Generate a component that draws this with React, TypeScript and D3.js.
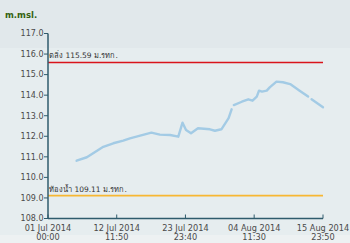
import React from "react";
import * as d3 from "d3";

const dates: string[] = [
  "2014-07-05T19:00", "2014-07-07T12:00", "2014-07-10T06:00", "2014-07-11T22:00",
  "2014-07-13T14:00", "2014-07-14T17:00", "2014-07-16T10:00", "2014-07-18T07:00",
  "2014-07-19T17:00", "2014-07-21T10:00", "2014-07-22T19:00", "2014-07-23T12:00",
  "2014-07-24T02:00", "2014-07-24T22:00", "2014-07-26T02:00", "2014-07-28T02:00",
  "2014-07-28T22:00", "2014-07-30T00:00", "2014-07-31T05:00", "2014-07-31T17:00",
  "2014-07-31T21:00",
  "2014-08-01T02:00", "2014-08-02T10:00", "2014-08-03T12:00", "2014-08-04T05:00",
  "2014-08-04T22:00", "2014-08-05T07:00", "2014-08-05T19:00", "2014-08-06T14:00",
  "2014-08-07T02:00", "2014-08-08T05:00", "2014-08-09T07:00", "2014-08-10T12:00",
  "2014-08-12T02:00", "2014-08-13T12:00", "2014-08-13T18:00",
  "2014-08-14T02:00", "2014-08-15T23:50",
];
const levels: (number | null)[] = [
  110.81, 110.98, 111.49, 111.66,
  111.79, 111.9, 112.03, 112.18,
  112.08, 112.06, 111.98, 112.66,
  112.31, 112.15, 112.39, 112.34,
  112.27, 112.34, 112.88, 113.31,
  null,
  113.52, 113.68, 113.8, 113.73,
  113.93, 114.22, 114.17, 114.22,
  114.38, 114.66, 114.63, 114.54,
  114.22, 113.93, null,
  113.8, 113.41,
];
const yTicks: number[] = [108, 109, 110, 111, 112, 113, 114, 115, 116, 117];
const xTickDates: string[] = [
  "2014-07-01T00:00", "2014-07-12T11:50", "2014-07-23T23:40", "2014-08-04T11:30", "2014-08-15T23:50",
];
const xTickLabels: string[][] = [
  ["01 Jul 2014", "00:00"], ["12 Jul 2014", "11:50"], ["23 Jul 2014", "23:40"],
  ["04 Aug 2014", "11:30"], ["15 Aug 2014", "23:50"],
];
const bankLevel = 115.59;
const bedLevel = 109.11;
const bankLabel = "ตลิ่ง 115.59 ม.รทก.";
const bedLabel = "ท้องน้ำ 109.11 ม.รทก.";
const unitLabel = "m.msl.";

const W = 350, H = 243;
const left = 48, right = 323, top = 33.5, bottom = 218.5;

export default function App() {
  const parse = (s: string) => new Date(s);
  const x = d3.scaleTime().domain([parse(xTickDates[0]), parse(xTickDates[4])]).range([left, right]);
  const y = d3.scaleLinear().domain([108, 117]).range([bottom, top]);
  const pts = dates.map((d, i) => ({ t: parse(d), v: levels[i] }));
  const line = d3.line<{ t: Date; v: number | null }>()
    .defined((d) => d.v !== null)
    .x((d) => x(d.t))
    .y((d) => y(d.v as number))
    .curve(d3.curveLinear);
  const font = "'DejaVu Sans', Verdana, sans-serif";
  const axisColor = "#2f5b6c";
  const textColor = "#4a4a4a";
  return (
    <svg width={W} height={H} style={{ position: "absolute", left: 0, top: 0 }} fontFamily={font}>
      <rect x={0} y={0} width={W} height={H} fill="#e6edef" />
      <rect x={0} y={0} width={W} height={48} fill="#e1e8eb" />
      <rect x={0} y={235} width={W} height={8} fill="#edf1f2" />
      <text x={5} y={18} fontSize={8.5} fontWeight="bold" fill="#35620f">{unitLabel}</text>
      {/* threshold lines */}
      <line x1={left} x2={right} y1={y(bankLevel)} y2={y(bankLevel)} stroke="#d9141b" strokeWidth={1.6} />
      <line x1={left} x2={right} y1={y(bedLevel)} y2={y(bedLevel)} stroke="#f7b733" strokeWidth={1.8} />
      <text x={left + 1} y={y(bankLevel) - 4} fontSize={7.5} fill="#333">{bankLabel}</text>
      <text x={left + 1} y={y(bedLevel) - 4} fontSize={7.5} fill="#333">{bedLabel}</text>
      {/* data line */}
      <path d={line(pts) || ""} fill="none" stroke="#a3cbe5" strokeWidth={2.4} strokeLinejoin="round" strokeLinecap="round" />
      {/* y axis */}
      <line x1={left} x2={left} y1={top} y2={bottom} stroke={axisColor} strokeWidth={1.5} />
      {yTicks.map((t) => (
        <g key={t}>
          <line x1={left - 4} x2={left} y1={y(t)} y2={y(t)} stroke={axisColor} strokeWidth={1} />
          <text x={left - 4.5} y={y(t)} dy="0.35em" textAnchor="end" fontSize={8} fill={textColor}>{t.toFixed(1)}</text>
        </g>
      ))}
      {/* x axis */}
      <line x1={left} x2={right} y1={bottom} y2={bottom} stroke={axisColor} strokeWidth={1.5} />
      {xTickDates.map((d, i) => {
        const px = x(parse(d));
        return (
          <g key={d}>
            <line x1={px} x2={px} y1={bottom} y2={bottom - 4} stroke={axisColor} strokeWidth={1} />
            <text x={px} y={bottom + 12} textAnchor="middle" fontSize={8.2} fill={textColor}>{xTickLabels[i][0]}</text>
            <text x={px} y={bottom + 21.5} textAnchor="middle" fontSize={8.2} fill={textColor}>{xTickLabels[i][1]}</text>
          </g>
        );
      })}
    </svg>
  );
}
